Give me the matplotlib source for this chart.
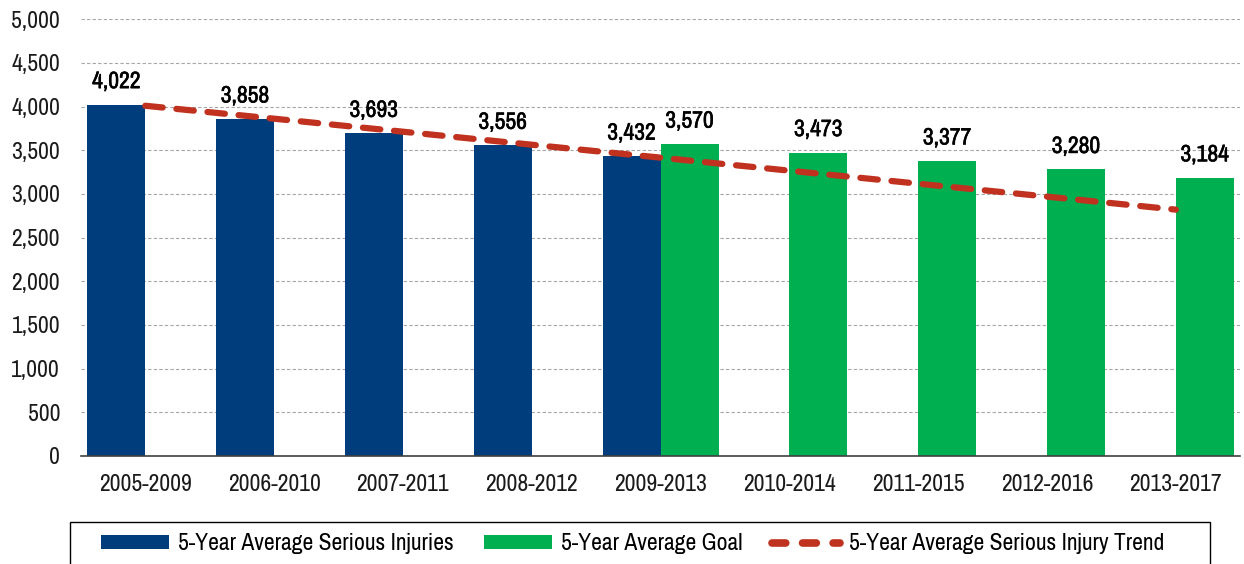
import matplotlib
matplotlib.use("Agg")
import matplotlib.pyplot as plt
import matplotlib.patheffects as pe
from matplotlib import font_manager
from matplotlib.lines import Line2D
from matplotlib.patches import Patch, Rectangle
import numpy as np

# the original uses a narrow font, pick a condensed one if there is any
names = sorted({f.name for f in font_manager.fontManager.ttflist})
narrow = [n for n in names if 'Narrow' in n or 'Condensed' in n]
FONT = narrow[0] if narrow else 'Liberation Sans'
plt.rcParams['font.family'] = [FONT, 'DejaVu Sans']
SIZE = 17 if narrow else 13.5
PX = SIZE * 100 / 72   # font size in pixels

periods = ["2005-2009", "2006-2010", "2007-2011", "2008-2012", "2009-2013",
           "2010-2014", "2011-2015", "2012-2016", "2013-2017"]
injuries = [4022, 3858, 3693, 3556, 3432]          # first five periods
goal = [3570, 3473, 3377, 3280, 3184]              # last five periods
trend = [4009, 3861, 3712, 3563, 3415, 3266, 3117, 2969, 2820]

BLUE = "#003D7C"
GREEN = "#00B050"
RED = "#C0321F"

fig = plt.figure(figsize=(12.44, 5.64), dpi=100)
ax = fig.add_axes([0.065, 0.1915, 0.932, 0.7745])

x = np.arange(len(periods))
w = 0.45
x_inj = x[:len(injuries)]
x_goal = x[len(periods) - len(goal):]

b1 = ax.bar(x_inj - w / 2, injuries, width=w, color=BLUE, zorder=3)
b2 = ax.bar(x_goal + w / 2, goal, width=w, color=GREEN, zorder=3)
ax.plot(x, trend, color=RED, lw=4.5, dashes=(2.8, 2.2),
        dash_capstyle='round', solid_capstyle='round', zorder=4)

# value labels are heavier than the tick labels -> thin stroke as fake bold
for bars in (b1, b2):
    txts = ax.bar_label(bars, labels=[f"{v:,}" for v in bars.datavalues],
                        padding=9, fontsize=SIZE, fontweight='bold', color='black')
    for t in txts:
        t.set_path_effects([pe.withStroke(linewidth=0.4, foreground='black')])

ax.set_xlim(-0.5, 8.5)
ax.set_ylim(0, 5000)
ax.set_yticks(np.arange(0, 5001, 500))
ax.set_yticklabels([f"{v:,}" for v in range(0, 5001, 500)])
ax.set_xticks(x)
ax.set_xticklabels(periods)
ax.tick_params(axis='both', length=0, labelsize=SIZE, colors='#1a1a1a')
ax.tick_params(axis='y', pad=15)
ax.tick_params(axis='x', pad=13)

ax.grid(axis='y', color='#a6a6a6', linestyle=(0, (3, 2)), lw=0.8, zorder=0)
for s in ('top', 'right', 'left'):
    ax.spines[s].set_visible(False)
ax.spines['bottom'].set_color('#404040')
ax.spines['bottom'].set_linewidth(1.2)
ax.spines['bottom'].set_zorder(5)

# legend box: cut off by the bottom edge like in the original
fig.patches.append(Rectangle((70 / 1244, -0.05), (1210 - 70) / 1244,
                             0.05 + 1 - 522 / 564, transform=fig.transFigure,
                             fill=False, edgecolor='black', lw=1.0))

handles = [
    Patch(facecolor=BLUE, label="5-Year Average Serious Injuries"),
    Patch(facecolor=GREEN, label="5-Year Average Goal"),
    Line2D([0], [0], color=RED, lw=5.5, dashes=(1.8, 2.2),
           dash_capstyle='round', label="5-Year Average Serious Injury Trend"),
]
leg = fig.legend(handles=handles, loc='center left',
                 bbox_to_anchor=(101 / 1244, 1 - 544 / 564), ncol=3,
                 fontsize=SIZE, frameon=False,
                 handlelength=68 / PX, handleheight=12 / PX,
                 handletextpad=9 / PX, columnspacing=30 / PX, borderpad=0,
                 borderaxespad=0)

fig.savefig("out.png", dpi=100)
